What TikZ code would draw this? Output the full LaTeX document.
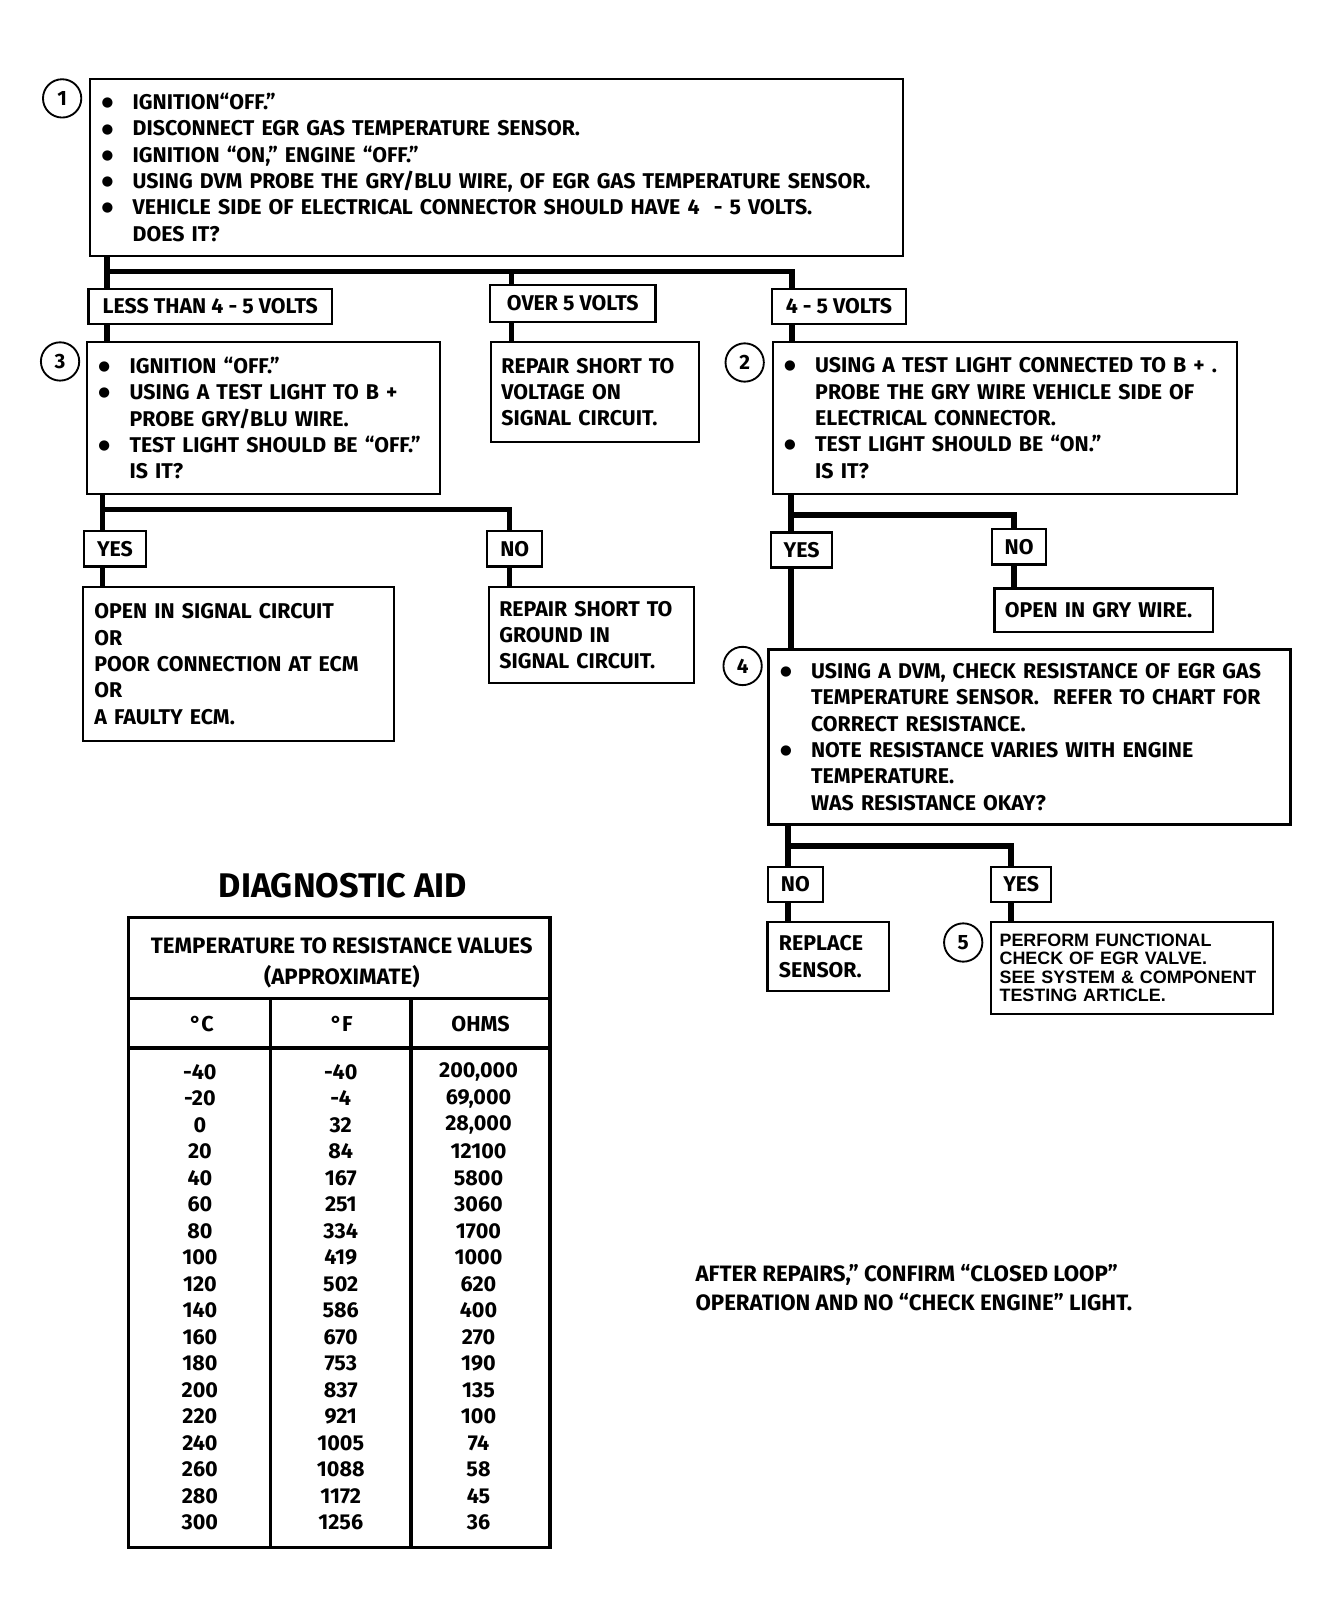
\documentclass[tikz,border=0pt]{standalone}
\usepackage{fontspec}
\setmainfont{Fira Sans}
\newfontfamily\helvfont{Liberation Sans}
\newfontfamily\symfont{DejaVu Sans}
\newcommand\mainfnt{\bfseries\fontsize{20.6}{25.4}\selectfont}
\newcommand\dotmark{\raisebox{2.8pt}{\symfont\fontsize{13}{13}\selectfont ●}}
\newcommand\bitem[1]{\makebox[30pt][l]{\dotmark}\mbox{#1}}
\newcommand\bcont[1]{\hspace*{30pt}\mbox{#1}}
\tikzset{
  box/.style={draw, line width=2.2pt, anchor=north west, align=left,
    inner xsep=11pt, inner ysep=0pt, font=\mainfnt},
  tag/.style={draw, line width=2.2pt, inner xsep=6pt, inner ysep=0pt,
    minimum height=34pt, font=\mainfnt},
  num/.style={draw, circle, line width=1.8pt, minimum size=37pt, inner sep=0pt,
    font=\bfseries\fontsize{20}{22}\selectfont},
  wire/.style={line width=5.5pt},
  cell/.style={font=\bfseries\fontsize{20.8}{24}\selectfont},
}
\begin{document}
\begin{tikzpicture}[x=1pt, y=-1pt]
  \useasboundingbox (0,0) rectangle (1284,1568);

  % step 1
  \node[box, text width=763, minimum height=171] (b1) at (86,75)
    {\bitem{IGNITION“OFF.”}\\
     \bitem{DISCONNECT EGR GAS TEMPERATURE SENSOR.}\\
     \bitem{IGNITION “ON,” ENGINE “OFF.”}\\
     \bitem{USING DVM PROBE THE GRY/BLU WIRE, OF EGR GAS TEMPERATURE SENSOR.}\\
     \bitem{VEHICLE SIDE OF ELECTRICAL CONNECTOR SHOULD HAVE 4 \ - 5 VOLTS.}\\
     \bcont{DOES IT?}};
  \node[num] (c1) at (60,95) {1};

  \node[tag, minimum width=235] (lt) at (203,296) {LESS THAN 4 - 5 VOLTS};
  \node[tag, minimum width=160, minimum height=36] (over) at (553,293) {OVER 5 VOLTS};
  \node[tag, minimum width=129] (ok) at (810,296) {4 - 5 VOLTS};

  % step 3
  \node[box, text width=319, minimum height=147] (b3) at (83,329)
    {\bitem{IGNITION “OFF.”}\\
     \bitem{USING A TEST LIGHT TO B +}\\
     \bcont{PROBE GRY/BLU WIRE.}\\
     \bitem{TEST LIGHT SHOULD BE “OFF.”}\\
     \bcont{IS IT?}};
  \node[num] (c3) at (58,349) {3};

  \node[box, text width=181, minimum height=97, inner xsep=10pt] (vlt) at (473,329)
    {REPAIR SHORT TO\\ VOLTAGE ON\\ SIGNAL CIRCUIT.};

  % step 2
  \node[box, text width=426, minimum height=147] (b2) at (745,329)
    {\bitem{USING A TEST LIGHT CONNECTED TO B + .}\\
     \bcont{PROBE THE GRY WIRE VEHICLE SIDE OF}\\
     \bcont{ELECTRICAL CONNECTOR.}\\
     \bitem{TEST LIGHT SHOULD BE “ON.”}\\
     \bcont{IS IT?}};
  \node[num] (c2) at (719,350) {2};

  \node[tag, minimum width=60] (yesA) at (111,530) {YES};
  \node[tag, minimum width=53] (noA) at (497,530) {NO};
  \node[tag, minimum width=59] (yesB) at (774,531) {YES};
  \node[tag, minimum width=52] (noB) at (984,528) {NO};

  \node[box, text width=278, minimum height=148] (sig) at (79,566)
    {OPEN IN SIGNAL CIRCUIT\\ OR\\ POOR CONNECTION AT ECM\\ OR\\ A FAULTY ECM.};
  \node[box, text width=178, minimum height=92, inner xsep=10pt] (gnd) at (471,566)
    {REPAIR SHORT TO\\ GROUND IN\\ SIGNAL CIRCUIT.};
  \node[box, text width=191, minimum height=42, inner xsep=10pt] (gry) at (959,567)
    {OPEN IN GRY WIRE.};

  % step 4
  \node[box, text width=482, minimum height=169] (b4) at (741,626)
    {\bitem{USING A DVM, CHECK RESISTANCE OF EGR GAS}\\
     \bcont{TEMPERATURE SENSOR. \ REFER TO CHART FOR}\\
     \bcont{CORRECT RESISTANCE.}\\
     \bitem{NOTE RESISTANCE VARIES WITH ENGINE}\\
     \bcont{TEMPERATURE.}\\
     \bcont{WAS RESISTANCE OKAY?}};
  \node[num] (c4) at (717,643) {4};

  \node[tag, minimum width=53] (noC) at (768,854) {NO};
  \node[tag, minimum width=58] (yesC) at (986,854) {YES};

  \node[box, text width=95, minimum height=67] (rep) at (740,889)
    {REPLACE\\ SENSOR.};
  \node[box, text width=256, minimum height=89, inner xsep=8pt,
    font=\helvfont\bfseries\fontsize{17.3}{17.7}\selectfont] (b5) at (956,889)
    {PERFORM FUNCTIONAL\\ CHECK OF EGR VALVE.\\ SEE SYSTEM \& COMPONENT\\ TESTING ARTICLE.};
  \node[num] (c5) at (930,910) {5};

  % connectors
  \coordinate (j1) at (103,262);
  \coordinate (jm) at (494,262);
  \coordinate (j2) at (765,262);
  \draw[wire] (b1.south -| j1) -- (j1) -- (j2) -- (ok.north -| j2);
  \draw[wire] (j1) -- (lt.north -| j1);
  \draw[wire] (jm) -- (over.north -| jm);
  \draw[wire] (lt.south -| j1) -- (b3.north -| j1);
  \draw[wire] (over.south -| jm) -- (vlt.north -| jm);
  \draw[wire] (ok.south -| j2) -- (b2.north -| j2);

  \coordinate (j3) at (99,492);
  \coordinate (j4) at (492,492);
  \draw[wire] (b3.south -| j3) -- (j3) -- (j4) -- (noA.north -| j4);
  \draw[wire] (j3) -- (yesA.north -| j3);
  \draw[wire] (yesA.south -| j3) -- (sig.north -| j3);
  \draw[wire] (noA.south -| j4) -- (gnd.north -| j4);

  \coordinate (j5) at (764,497);
  \coordinate (j6) at (979,497);
  \draw[wire] (b2.south -| j5) -- (j5) -- (j6) -- (noB.north -| j6);
  \draw[wire] (j5) -- (yesB.north -| j5);
  \draw[wire] (yesB.south -| j5) -- (b4.north -| j5);
  \draw[wire] (noB.south -| j6) -- (gry.north -| j6);

  \coordinate (j7) at (761,817);
  \coordinate (j8) at (976,817);
  \draw[wire] (b4.south -| j7) -- (j7) -- (j8) -- (yesC.north -| j8);
  \draw[wire] (j7) -- (noC.north -| j7);
  \draw[wire] (noC.south -| j7) -- (rep.north -| j7);
  \draw[wire] (yesC.south -| j8) -- (b5.north -| j8);

  % diagnostic aid chart
  \node[font=\bfseries\fontsize{33}{35}\selectfont] (aid) at (331,855) {DIAGNOSTIC AID};
  \draw[line width=3.5pt] (124,886) rectangle (531,1494);
  \draw[line width=3pt] (124,964) -- (531,964);
  \draw[line width=4pt] (124,1012) -- (531,1012);
  \draw[line width=3.5pt] (261,964) -- (261,1494);
  \draw[line width=3.5pt] (397,964) -- (397,1494);
  \node[font=\bfseries\fontsize{21.5}{30}\selectfont, align=center] (hd) at (330,930)
    {TEMPERATURE TO RESISTANCE VALUES\\ (APPROXIMATE)};
  \node[cell] (hc) at (195,989) {°C};
  \node[cell] (hf) at (330,989) {°F};
  \node[cell] (ho) at (464,989) {OHMS};
  \foreach \c/\f/\o [count=\i from 0] in {-40/-40/{200,000}, -20/-4/{69,000},
      0/32/{28,000}, 20/84/12100, 40/167/5800, 60/251/3060, 80/334/1700,
      100/419/1000, 120/502/620, 140/586/400, 160/670/270, 180/753/190,
      200/837/135, 220/921/100, 240/1005/74, 260/1088/58, 280/1172/45,
      300/1256/36}
  {
    \node[cell] at (193,1035+\i*25.6) {\c};
    \node[cell] at (329,1035+\i*25.6) {\f};
    \node[cell] at (462,1035+\i*25.6) {\o};
  }

  \node[font=\bfseries\fontsize{21.5}{28}\selectfont, align=left, anchor=west] (note) at (668,1243)
    {AFTER REPAIRS,” CONFIRM “CLOSED LOOP”\\ OPERATION AND NO “CHECK ENGINE” LIGHT.};
\end{tikzpicture}
\end{document}
